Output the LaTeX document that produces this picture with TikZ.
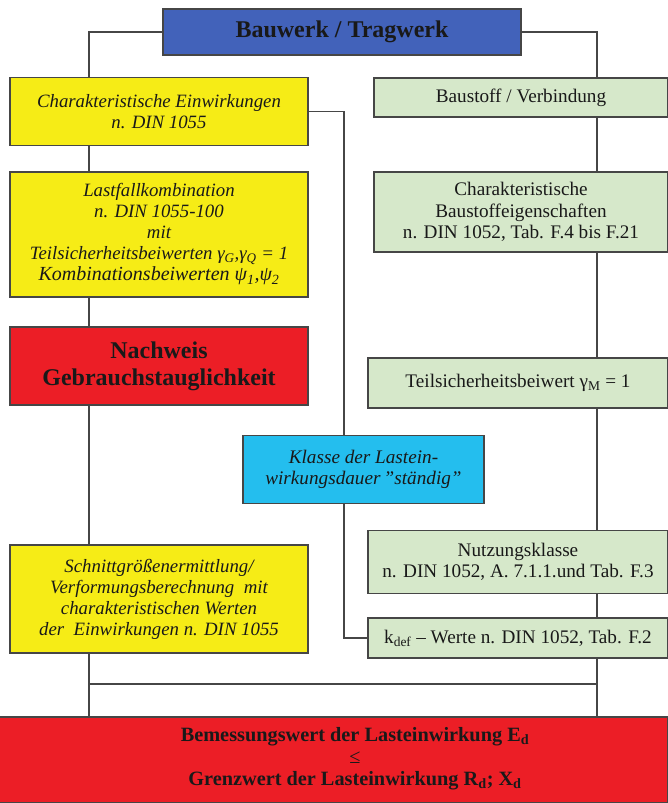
\documentclass[tikz,border=0pt]{standalone}
\usepackage{fontspec}
\setmainfont{Liberation Serif}
\definecolor{cBlue}{RGB}{66,98,186}
\definecolor{cYel}{RGB}{246,236,22}
\definecolor{cGrn}{RGB}{214,232,202}
\definecolor{cRed}{RGB}{236,30,38}
\definecolor{cCyan}{RGB}{36,190,238}
\definecolor{cLine}{RGB}{70,70,70}
\begin{document}
\begin{tikzpicture}[x=1pt,y=-1pt,
  box/.style={draw=cLine, line width=1.1pt, align=center, inner sep=0pt, text=black!90},
  ybox/.style={box, fill=cYel, minimum width=298pt, font=\fontsize{18.8}{21}\selectfont\itshape},
  gbox/.style={box, fill=cGrn, font=\fontsize{19.2}{21.5}\selectfont},
  conn/.style={draw=cLine, line width=1.1pt}]
\useasboundingbox (0,0) rectangle (667,803);
\fill[white] (0,0) rectangle (667,803);
\coordinate (L) at (89,0);
\coordinate (M) at (344,0);
\coordinate (R) at (597,0);
\coordinate (H) at (0,684);

\node[box, fill=cBlue, minimum width=358pt, minimum height=46pt, font=\fontsize{24}{27}\selectfont\bfseries] (top) at (342,32) {Bauwerk / Tragwerk};

\node[ybox, minimum height=68pt] (y1) at (159,111.5) {Charakteristische Einwirkungen\\ n. DIN 1055};
\node[gbox, minimum width=294pt, minimum height=39pt] (g1) at (521,97.5) {Baustoff / Verbindung};

\node[ybox, minimum height=125pt] (y2) at (159,234.5) {Lastfallkombination\\ n. DIN 1055-100\\ mit\\ Teilsicherheitsbeiwerten γ\textsubscript{G},γ\textsubscript{Q} = 1\\ {\fontsize{20}{21}\selectfont Kombinationsbeiwerten ψ\textsubscript{1},ψ\textsubscript{2}}};
\node[gbox, minimum width=294pt, minimum height=80pt] (g2) at (521,212) {Charakteristische\\ Baustoffeigenschaften\\ n. DIN 1052, Tab. F.4 bis F.21};

\node[box, fill=cRed, minimum width=298pt, minimum height=78pt, font=\fontsize{24}{27}\selectfont\bfseries] (r1) at (159,366) {Nachweis\\ Gebrauchstauglichkeit};
\node[gbox, minimum width=300pt, minimum height=50pt] (g3) at (518,383) {Teilsicherheitsbeiwert γ\textsubscript{M} = 1};

\node[box, fill=cCyan, minimum width=241pt, minimum height=68pt, font=\fontsize{19.2}{21}\selectfont\itshape] (cy) at (363.5,469.5) {Klasse der Lastein-\\ wirkungsdauer\,"ständig"};

\node[ybox, minimum height=108pt] (y3) at (159,599) {Schnittgrößenermittlung/\\ Verformungsberechnung\ \ mit\\ charakteristischen Werten\\ der\ \ Einwirkungen n. DIN 1055};
\node[gbox, minimum width=300pt, minimum height=63pt] (g4) at (518,562) {Nutzungsklasse\\ n. DIN 1052, A. 7.1.1.und Tab. F.3};
\node[gbox, minimum width=300pt, minimum height=40pt] (g5) at (518,638) {k\textsubscript{def} – Werte n. DIN 1052, Tab. F.2};

\node[box, fill=cRed, minimum width=669pt, minimum height=86pt] (bot) at (333.5,760) {};
\node[align=center, inner sep=0pt, text=black!90, font=\fontsize{20.3}{22}\selectfont\bfseries] (bottxt) at (355,759) {Bemessungswert der Lasteinwirkung E\textsubscript{d}\\ {\mdseries ≤}\\ Grenzwert der Lasteinwirkung R\textsubscript{d}; X\textsubscript{d}};

% left spine
\draw[conn] (top.west) -| (y1.north -| L);
\draw[conn] (y1.south -| L) -- (y2.north -| L);
\draw[conn] (y2.south -| L) -- (r1.north -| L);
\draw[conn] (r1.south -| L) -- (y3.north -| L);
\draw[conn] (y3.south -| L) -- (bot.north -| L);
% right spine
\draw[conn] (top.east) -| (g1.north -| R);
\draw[conn] (g1.south -| R) -- (g2.north -| R);
\draw[conn] (g2.south -| R) -- (g3.north -| R);
\draw[conn] (g3.south -| R) -- (g4.north -| R);
\draw[conn] (g4.south -| R) -- (g5.north -| R);
\draw[conn] (g5.south -| R) -- (bot.north -| R);
% cross line
\draw[conn] (H -| L) -- (H -| R);
% middle
\draw[conn] (y1.east) -| (cy.north -| M);
\draw[conn] (cy.south -| M) |- (g5.west);
\end{tikzpicture}
\end{document}
